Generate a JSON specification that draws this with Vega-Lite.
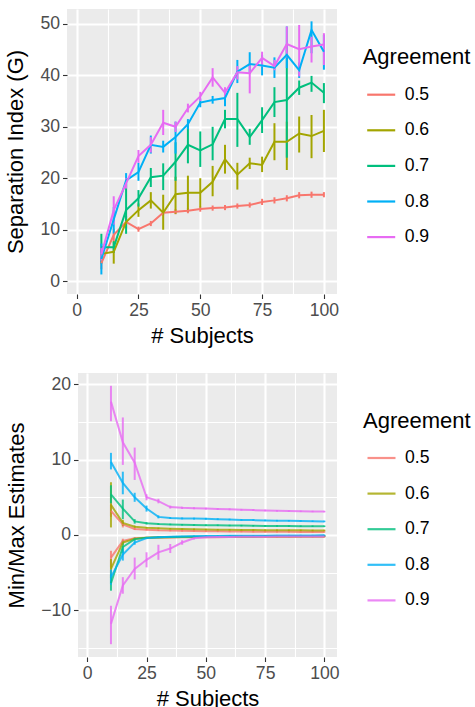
{
 "$schema": "https://vega.github.io/schema/vega-lite/v6.json",
 "padding": {"left": 4, "top": 9, "right": 0, "bottom": 0},
 "background": "white",
 "config": {
  "font": "Liberation Sans",
  "view": {"fill": "#EBEBEB", "stroke": null},
  "axis": {"domain": false, "gridColor": "white", "tickColor": "#333333", "tickSize": 4.5, "tickWidth": 1.1, "labelColor": "#4D4D4D", "labelFontSize": 17.6, "labelPadding": 3, "titleFontSize": 22, "titleFontWeight": "normal", "titleColor": "black", "labelOverlap": false},
  "legend": {"titleFontSize": 22, "titleFontWeight": "normal", "titleColor": "black", "labelFontSize": 17.6, "labelColor": "black", "symbolType": "stroke", "symbolSize": 784, "symbolStrokeWidth": 2.2, "rowPadding": 10.6, "titlePadding": 10, "labelOffset": 8, "symbolOffset": 3}
 },
 "datasets": {
  "top": [
   {"n":10,"a":"0.5","m":3.5,"l":2.3,"h":4.7},{"n":15,"a":"0.5","m":9.0,"l":7.8,"h":10.2},{"n":20,"a":"0.5","m":11.5,"l":11.0,"h":12.0},{"n":25,"a":"0.5","m":10.1,"l":9.6,"h":10.6},{"n":30,"a":"0.5","m":11.2,"l":10.7,"h":11.7},{"n":35,"a":"0.5","m":13.3,"l":12.8,"h":13.8},{"n":40,"a":"0.5","m":13.5,"l":13.0,"h":14.0},{"n":45,"a":"0.5","m":13.7,"l":13.2,"h":14.2},{"n":50,"a":"0.5","m":14.0,"l":13.5,"h":14.5},{"n":55,"a":"0.5","m":14.2,"l":13.7,"h":14.7},{"n":60,"a":"0.5","m":14.3,"l":13.8,"h":14.8},{"n":65,"a":"0.5","m":14.6,"l":14.1,"h":15.1},{"n":70,"a":"0.5","m":14.8,"l":14.3,"h":15.3},{"n":75,"a":"0.5","m":15.4,"l":14.8,"h":16.0},{"n":80,"a":"0.5","m":15.7,"l":15.1,"h":16.3},{"n":85,"a":"0.5","m":16.1,"l":15.5,"h":16.7},{"n":90,"a":"0.5","m":16.7,"l":16.1,"h":17.3},{"n":95,"a":"0.5","m":16.8,"l":16.2,"h":17.4},{"n":100,"a":"0.5","m":16.8,"l":16.3,"h":17.3},
   {"n":10,"a":"0.6","m":5.3,"l":3.4,"h":6.6},{"n":15,"a":"0.6","m":5.7,"l":3.4,"h":7.8},{"n":20,"a":"0.6","m":11.5,"l":10.3,"h":12.7},{"n":25,"a":"0.6","m":13.8,"l":12.5,"h":15.1},{"n":30,"a":"0.6","m":15.7,"l":14.1,"h":17.3},{"n":35,"a":"0.6","m":13.3,"l":10.0,"h":16.8},{"n":40,"a":"0.6","m":16.9,"l":13.1,"h":20.3},{"n":45,"a":"0.6","m":17.2,"l":13.5,"h":20.5},{"n":50,"a":"0.6","m":17.2,"l":14.3,"h":20.0},{"n":55,"a":"0.6","m":19.3,"l":16.5,"h":22.4},{"n":60,"a":"0.6","m":23.7,"l":20.9,"h":26.5},{"n":65,"a":"0.6","m":20.7,"l":17.8,"h":23.0},{"n":70,"a":"0.6","m":22.9,"l":21.8,"h":24.0},{"n":75,"a":"0.6","m":22.6,"l":21.2,"h":24.2},{"n":80,"a":"0.6","m":27.1,"l":23.5,"h":30.7},{"n":85,"a":"0.6","m":27.1,"l":21.6,"h":31.0},{"n":90,"a":"0.6","m":28.7,"l":25.0,"h":32.0},{"n":95,"a":"0.6","m":28.2,"l":23.9,"h":32.3},{"n":100,"a":"0.6","m":29.2,"l":25.1,"h":33.3},
   {"n":10,"a":"0.7","m":6.6,"l":4.0,"h":9.2},{"n":15,"a":"0.7","m":6.6,"l":5.5,"h":7.7},{"n":20,"a":"0.7","m":13.8,"l":9.2,"h":19.0},{"n":25,"a":"0.7","m":16.1,"l":14.5,"h":17.7},{"n":30,"a":"0.7","m":20.2,"l":18.3,"h":22.0},{"n":35,"a":"0.7","m":20.5,"l":17.7,"h":22.9},{"n":40,"a":"0.7","m":23.2,"l":19.5,"h":27.0},{"n":45,"a":"0.7","m":26.5,"l":22.9,"h":30.3},{"n":50,"a":"0.7","m":25.4,"l":22.2,"h":29.1},{"n":55,"a":"0.7","m":26.6,"l":23.5,"h":30.0},{"n":60,"a":"0.7","m":31.5,"l":29.7,"h":33.3},{"n":65,"a":"0.7","m":31.5,"l":26.1,"h":36.6},{"n":70,"a":"0.7","m":28.0,"l":26.5,"h":29.6},{"n":75,"a":"0.7","m":31.3,"l":28.8,"h":33.8},{"n":80,"a":"0.7","m":34.8,"l":31.9,"h":37.7},{"n":85,"a":"0.7","m":35.2,"l":24.0,"h":46.0},{"n":90,"a":"0.7","m":37.6,"l":36.2,"h":39.0},{"n":95,"a":"0.7","m":38.6,"l":36.8,"h":39.9},{"n":100,"a":"0.7","m":36.6,"l":34.6,"h":38.5},
   {"n":10,"a":"0.8","m":4.3,"l":1.3,"h":7.3},{"n":15,"a":"0.8","m":12.0,"l":9.2,"h":14.4},{"n":20,"a":"0.8","m":19.6,"l":18.2,"h":21.0},{"n":25,"a":"0.8","m":21.2,"l":19.5,"h":23.0},{"n":30,"a":"0.8","m":26.5,"l":24.8,"h":28.3},{"n":35,"a":"0.8","m":26.1,"l":25.0,"h":27.3},{"n":40,"a":"0.8","m":28.0,"l":24.8,"h":31.0},{"n":45,"a":"0.8","m":30.5,"l":29.5,"h":31.5},{"n":50,"a":"0.8","m":34.7,"l":33.8,"h":35.5},{"n":55,"a":"0.8","m":35.2,"l":34.5,"h":36.0},{"n":60,"a":"0.8","m":35.6,"l":34.0,"h":37.0},{"n":65,"a":"0.8","m":40.7,"l":38.5,"h":43.0},{"n":70,"a":"0.8","m":42.2,"l":40.3,"h":44.5},{"n":75,"a":"0.8","m":41.9,"l":40.0,"h":44.0},{"n":80,"a":"0.8","m":41.5,"l":39.5,"h":43.5},{"n":85,"a":"0.8","m":44.0,"l":41.4,"h":49.5},{"n":90,"a":"0.8","m":41.0,"l":39.5,"h":42.5},{"n":95,"a":"0.8","m":48.8,"l":44.3,"h":50.5},{"n":100,"a":"0.8","m":44.6,"l":41.1,"h":47.9},
   {"n":10,"a":"0.9","m":5.2,"l":4.0,"h":6.5},{"n":15,"a":"0.9","m":13.8,"l":11.0,"h":16.5},{"n":20,"a":"0.9","m":19.0,"l":18.0,"h":20.0},{"n":25,"a":"0.9","m":24.3,"l":23.0,"h":25.5},{"n":30,"a":"0.9","m":26.5,"l":25.0,"h":28.0},{"n":35,"a":"0.9","m":30.8,"l":28.4,"h":33.3},{"n":40,"a":"0.9","m":30.0,"l":29.0,"h":31.0},{"n":45,"a":"0.9","m":33.6,"l":32.8,"h":34.5},{"n":50,"a":"0.9","m":35.9,"l":35.0,"h":36.8},{"n":55,"a":"0.9","m":39.6,"l":37.8,"h":41.4},{"n":60,"a":"0.9","m":36.6,"l":35.5,"h":37.7},{"n":65,"a":"0.9","m":40.6,"l":39.2,"h":41.8},{"n":70,"a":"0.9","m":40.4,"l":36.5,"h":42.4},{"n":75,"a":"0.9","m":43.4,"l":41.7,"h":44.6},{"n":80,"a":"0.9","m":41.8,"l":41.0,"h":43.0},{"n":85,"a":"0.9","m":46.1,"l":43.5,"h":49.5},{"n":90,"a":"0.9","m":45.1,"l":39.8,"h":49.8},{"n":95,"a":"0.9","m":45.6,"l":42.5,"h":47.5},{"n":100,"a":"0.9","m":46.0,"l":42.0,"h":48.2}
  ],
  "bottom": [
   {"n":10,"a":"0.5","t":"max","m":3.2,"l":2.4,"h":4.1},{"n":15,"a":"0.5","t":"max","m":1.4,"l":1.0,"h":1.8},{"n":20,"a":"0.5","t":"max","m":0.8,"l":0.65,"h":0.95},{"n":25,"a":"0.5","t":"max","m":0.7,"l":0.6,"h":0.8},{"n":30,"a":"0.5","t":"max","m":0.62,"l":0.52,"h":0.72},{"n":35,"a":"0.5","t":"max","m":0.58,"l":0.48,"h":0.68},{"n":40,"a":"0.5","t":"max","m":0.55,"l":0.45,"h":0.65},{"n":45,"a":"0.5","t":"max","m":0.53,"l":0.43,"h":0.63},{"n":50,"a":"0.5","t":"max","m":0.5,"l":0.4,"h":0.6},{"n":55,"a":"0.5","t":"max","m":0.48,"l":0.38,"h":0.58},{"n":60,"a":"0.5","t":"max","m":0.47,"l":0.37,"h":0.57},{"n":65,"a":"0.5","t":"max","m":0.45,"l":0.35,"h":0.55},{"n":70,"a":"0.5","t":"max","m":0.44,"l":0.34,"h":0.54},{"n":75,"a":"0.5","t":"max","m":0.43,"l":0.33,"h":0.53},{"n":80,"a":"0.5","t":"max","m":0.42,"l":0.32,"h":0.52},{"n":85,"a":"0.5","t":"max","m":0.41,"l":0.31,"h":0.51},{"n":90,"a":"0.5","t":"max","m":0.4,"l":0.3,"h":0.5},{"n":95,"a":"0.5","t":"max","m":0.4,"l":0.3,"h":0.5},{"n":100,"a":"0.5","t":"max","m":0.4,"l":0.3,"h":0.5},
   {"n":10,"a":"0.6","t":"max","m":4.0,"l":1.0,"h":7.0},{"n":15,"a":"0.6","t":"max","m":1.6,"l":1.2,"h":2.0},{"n":20,"a":"0.6","t":"max","m":1.1,"l":0.95,"h":1.25},{"n":25,"a":"0.6","t":"max","m":0.95,"l":0.85,"h":1.05},{"n":30,"a":"0.6","t":"max","m":0.88,"l":0.78,"h":0.98},{"n":35,"a":"0.6","t":"max","m":0.82,"l":0.72,"h":0.92},{"n":40,"a":"0.6","t":"max","m":0.78,"l":0.68,"h":0.88},{"n":45,"a":"0.6","t":"max","m":0.75,"l":0.65,"h":0.85},{"n":50,"a":"0.6","t":"max","m":0.72,"l":0.62,"h":0.82},{"n":55,"a":"0.6","t":"max","m":0.7,"l":0.6,"h":0.8},{"n":60,"a":"0.6","t":"max","m":0.68,"l":0.58,"h":0.78},{"n":65,"a":"0.6","t":"max","m":0.67,"l":0.57,"h":0.77},{"n":70,"a":"0.6","t":"max","m":0.65,"l":0.55,"h":0.75},{"n":75,"a":"0.6","t":"max","m":0.64,"l":0.54,"h":0.74},{"n":80,"a":"0.6","t":"max","m":0.63,"l":0.53,"h":0.73},{"n":85,"a":"0.6","t":"max","m":0.62,"l":0.52,"h":0.72},{"n":90,"a":"0.6","t":"max","m":0.61,"l":0.51,"h":0.71},{"n":95,"a":"0.6","t":"max","m":0.6,"l":0.5,"h":0.7},{"n":100,"a":"0.6","t":"max","m":0.6,"l":0.5,"h":0.7},
   {"n":10,"a":"0.7","t":"max","m":5.4,"l":4.2,"h":6.6},{"n":15,"a":"0.7","t":"max","m":3.5,"l":2.1,"h":4.7},{"n":20,"a":"0.7","t":"max","m":1.8,"l":1.5,"h":2.1},{"n":25,"a":"0.7","t":"max","m":1.55,"l":1.4,"h":1.7},{"n":30,"a":"0.7","t":"max","m":1.45,"l":1.33,"h":1.57},{"n":35,"a":"0.7","t":"max","m":1.4,"l":1.3,"h":1.5},{"n":40,"a":"0.7","t":"max","m":1.35,"l":1.25,"h":1.45},{"n":45,"a":"0.7","t":"max","m":1.32,"l":1.22,"h":1.42},{"n":50,"a":"0.7","t":"max","m":1.3,"l":1.2,"h":1.4},{"n":55,"a":"0.7","t":"max","m":1.28,"l":1.18,"h":1.38},{"n":60,"a":"0.7","t":"max","m":1.26,"l":1.16,"h":1.36},{"n":65,"a":"0.7","t":"max","m":1.24,"l":1.14,"h":1.34},{"n":70,"a":"0.7","t":"max","m":1.22,"l":1.12,"h":1.32},{"n":75,"a":"0.7","t":"max","m":1.2,"l":1.1,"h":1.3},{"n":80,"a":"0.7","t":"max","m":1.19,"l":1.09,"h":1.29},{"n":85,"a":"0.7","t":"max","m":1.18,"l":1.08,"h":1.28},{"n":90,"a":"0.7","t":"max","m":1.17,"l":1.07,"h":1.27},{"n":95,"a":"0.7","t":"max","m":1.16,"l":1.06,"h":1.26},{"n":100,"a":"0.7","t":"max","m":1.15,"l":1.05,"h":1.25},
   {"n":10,"a":"0.8","t":"max","m":9.7,"l":8.7,"h":10.9},{"n":15,"a":"0.8","t":"max","m":6.9,"l":5.4,"h":8.4},{"n":20,"a":"0.8","t":"max","m":5.0,"l":4.4,"h":5.6},{"n":25,"a":"0.8","t":"max","m":3.5,"l":3.1,"h":3.9},{"n":30,"a":"0.8","t":"max","m":2.4,"l":2.2,"h":2.6},{"n":35,"a":"0.8","t":"max","m":2.25,"l":2.12,"h":2.38},{"n":40,"a":"0.8","t":"max","m":2.2,"l":2.08,"h":2.32},{"n":45,"a":"0.8","t":"max","m":2.17,"l":2.05,"h":2.29},{"n":50,"a":"0.8","t":"max","m":2.15,"l":2.03,"h":2.27},{"n":55,"a":"0.8","t":"max","m":2.1,"l":1.98,"h":2.22},{"n":60,"a":"0.8","t":"max","m":2.05,"l":1.94,"h":2.16},{"n":65,"a":"0.8","t":"max","m":2.0,"l":1.9,"h":2.1},{"n":70,"a":"0.8","t":"max","m":1.97,"l":1.87,"h":2.07},{"n":75,"a":"0.8","t":"max","m":1.93,"l":1.83,"h":2.03},{"n":80,"a":"0.8","t":"max","m":1.9,"l":1.8,"h":2.0},{"n":85,"a":"0.8","t":"max","m":1.88,"l":1.78,"h":1.98},{"n":90,"a":"0.8","t":"max","m":1.85,"l":1.75,"h":1.95},{"n":95,"a":"0.8","t":"max","m":1.82,"l":1.72,"h":1.92},{"n":100,"a":"0.8","t":"max","m":1.8,"l":1.7,"h":1.9},
   {"n":10,"a":"0.9","t":"max","m":17.7,"l":15.1,"h":19.8},{"n":15,"a":"0.9","t":"max","m":12.3,"l":9.3,"h":15.6},{"n":20,"a":"0.9","t":"max","m":9.6,"l":7.3,"h":11.6},{"n":25,"a":"0.9","t":"max","m":5.0,"l":4.6,"h":5.4},{"n":30,"a":"0.9","t":"max","m":4.5,"l":4.2,"h":4.8},{"n":35,"a":"0.9","t":"max","m":3.7,"l":3.5,"h":3.9},{"n":40,"a":"0.9","t":"max","m":3.6,"l":3.45,"h":3.75},{"n":45,"a":"0.9","t":"max","m":3.55,"l":3.42,"h":3.68},{"n":50,"a":"0.9","t":"max","m":3.5,"l":3.38,"h":3.62},{"n":55,"a":"0.9","t":"max","m":3.45,"l":3.33,"h":3.57},{"n":60,"a":"0.9","t":"max","m":3.4,"l":3.28,"h":3.52},{"n":65,"a":"0.9","t":"max","m":3.35,"l":3.24,"h":3.46},{"n":70,"a":"0.9","t":"max","m":3.3,"l":3.19,"h":3.41},{"n":75,"a":"0.9","t":"max","m":3.25,"l":3.14,"h":3.36},{"n":80,"a":"0.9","t":"max","m":3.2,"l":3.1,"h":3.3},{"n":85,"a":"0.9","t":"max","m":3.17,"l":3.07,"h":3.27},{"n":90,"a":"0.9","t":"max","m":3.14,"l":3.04,"h":3.24},{"n":95,"a":"0.9","t":"max","m":3.12,"l":3.02,"h":3.22},{"n":100,"a":"0.9","t":"max","m":3.1,"l":3.0,"h":3.2},
   {"n":10,"a":"0.5","t":"min","m":-3.0,"l":-4.3,"h":-2.1},{"n":15,"a":"0.5","t":"min","m":-0.8,"l":-1.1,"h":-0.5},{"n":20,"a":"0.5","t":"min","m":-0.45,"l":-0.55,"h":-0.35},{"n":25,"a":"0.5","t":"min","m":-0.38,"l":-0.46,"h":-0.3},{"n":30,"a":"0.5","t":"min","m":-0.35,"l":-0.43,"h":-0.27},{"n":35,"a":"0.5","t":"min","m":-0.33,"l":-0.41,"h":-0.25},{"n":40,"a":"0.5","t":"min","m":-0.32,"l":-0.4,"h":-0.24},{"n":45,"a":"0.5","t":"min","m":-0.31,"l":-0.39,"h":-0.23},{"n":50,"a":"0.5","t":"min","m":-0.3,"l":-0.38,"h":-0.22},{"n":55,"a":"0.5","t":"min","m":-0.29,"l":-0.37,"h":-0.21},{"n":60,"a":"0.5","t":"min","m":-0.28,"l":-0.36,"h":-0.2},{"n":65,"a":"0.5","t":"min","m":-0.28,"l":-0.36,"h":-0.2},{"n":70,"a":"0.5","t":"min","m":-0.27,"l":-0.35,"h":-0.19},{"n":75,"a":"0.5","t":"min","m":-0.27,"l":-0.35,"h":-0.19},{"n":80,"a":"0.5","t":"min","m":-0.26,"l":-0.34,"h":-0.18},{"n":85,"a":"0.5","t":"min","m":-0.26,"l":-0.34,"h":-0.18},{"n":90,"a":"0.5","t":"min","m":-0.25,"l":-0.33,"h":-0.17},{"n":95,"a":"0.5","t":"min","m":-0.25,"l":-0.33,"h":-0.17},{"n":100,"a":"0.5","t":"min","m":-0.25,"l":-0.33,"h":-0.17},
   {"n":10,"a":"0.6","t":"min","m":-4.5,"l":-5.8,"h":-3.2},{"n":15,"a":"0.6","t":"min","m":-1.0,"l":-1.3,"h":-0.7},{"n":20,"a":"0.6","t":"min","m":-0.5,"l":-0.6,"h":-0.4},{"n":25,"a":"0.6","t":"min","m":-0.38,"l":-0.46,"h":-0.3},{"n":30,"a":"0.6","t":"min","m":-0.33,"l":-0.41,"h":-0.25},{"n":35,"a":"0.6","t":"min","m":-0.3,"l":-0.38,"h":-0.22},{"n":40,"a":"0.6","t":"min","m":-0.28,"l":-0.36,"h":-0.2},{"n":45,"a":"0.6","t":"min","m":-0.27,"l":-0.35,"h":-0.19},{"n":50,"a":"0.6","t":"min","m":-0.26,"l":-0.34,"h":-0.18},{"n":55,"a":"0.6","t":"min","m":-0.25,"l":-0.33,"h":-0.17},{"n":60,"a":"0.6","t":"min","m":-0.24,"l":-0.32,"h":-0.16},{"n":65,"a":"0.6","t":"min","m":-0.23,"l":-0.31,"h":-0.15},{"n":70,"a":"0.6","t":"min","m":-0.23,"l":-0.31,"h":-0.15},{"n":75,"a":"0.6","t":"min","m":-0.22,"l":-0.3,"h":-0.14},{"n":80,"a":"0.6","t":"min","m":-0.22,"l":-0.3,"h":-0.14},{"n":85,"a":"0.6","t":"min","m":-0.21,"l":-0.29,"h":-0.13},{"n":90,"a":"0.6","t":"min","m":-0.21,"l":-0.29,"h":-0.13},{"n":95,"a":"0.6","t":"min","m":-0.2,"l":-0.28,"h":-0.12},{"n":100,"a":"0.6","t":"min","m":-0.2,"l":-0.28,"h":-0.12},
   {"n":10,"a":"0.7","t":"min","m":-6.4,"l":-7.4,"h":-5.2},{"n":15,"a":"0.7","t":"min","m":-1.6,"l":-2.4,"h":-0.8},{"n":20,"a":"0.7","t":"min","m":-0.55,"l":-0.75,"h":-0.35},{"n":25,"a":"0.7","t":"min","m":-0.38,"l":-0.46,"h":-0.3},{"n":30,"a":"0.7","t":"min","m":-0.3,"l":-0.38,"h":-0.22},{"n":35,"a":"0.7","t":"min","m":-0.26,"l":-0.34,"h":-0.18},{"n":40,"a":"0.7","t":"min","m":-0.23,"l":-0.31,"h":-0.15},{"n":45,"a":"0.7","t":"min","m":-0.21,"l":-0.29,"h":-0.13},{"n":50,"a":"0.7","t":"min","m":-0.2,"l":-0.28,"h":-0.12},{"n":55,"a":"0.7","t":"min","m":-0.19,"l":-0.27,"h":-0.11},{"n":60,"a":"0.7","t":"min","m":-0.18,"l":-0.26,"h":-0.1},{"n":65,"a":"0.7","t":"min","m":-0.17,"l":-0.25,"h":-0.09},{"n":70,"a":"0.7","t":"min","m":-0.16,"l":-0.24,"h":-0.08},{"n":75,"a":"0.7","t":"min","m":-0.15,"l":-0.23,"h":-0.07},{"n":80,"a":"0.7","t":"min","m":-0.15,"l":-0.23,"h":-0.07},{"n":85,"a":"0.7","t":"min","m":-0.14,"l":-0.22,"h":-0.06},{"n":90,"a":"0.7","t":"min","m":-0.13,"l":-0.21,"h":-0.05},{"n":95,"a":"0.7","t":"min","m":-0.13,"l":-0.21,"h":-0.05},{"n":100,"a":"0.7","t":"min","m":-0.12,"l":-0.2,"h":-0.04},
   {"n":10,"a":"0.8","t":"min","m":-5.6,"l":-6.6,"h":-4.6},{"n":15,"a":"0.8","t":"min","m":-2.6,"l":-3.4,"h":-1.8},{"n":20,"a":"0.8","t":"min","m":-1.0,"l":-1.3,"h":-0.7},{"n":25,"a":"0.8","t":"min","m":-0.42,"l":-0.55,"h":-0.3},{"n":30,"a":"0.8","t":"min","m":-0.3,"l":-0.38,"h":-0.22},{"n":35,"a":"0.8","t":"min","m":-0.24,"l":-0.32,"h":-0.16},{"n":40,"a":"0.8","t":"min","m":-0.2,"l":-0.28,"h":-0.12},{"n":45,"a":"0.8","t":"min","m":-0.17,"l":-0.25,"h":-0.09},{"n":50,"a":"0.8","t":"min","m":-0.15,"l":-0.23,"h":-0.07},{"n":55,"a":"0.8","t":"min","m":-0.13,"l":-0.21,"h":-0.05},{"n":60,"a":"0.8","t":"min","m":-0.12,"l":-0.2,"h":-0.04},{"n":65,"a":"0.8","t":"min","m":-0.11,"l":-0.19,"h":-0.03},{"n":70,"a":"0.8","t":"min","m":-0.1,"l":-0.18,"h":-0.02},{"n":75,"a":"0.8","t":"min","m":-0.09,"l":-0.17,"h":-0.01},{"n":80,"a":"0.8","t":"min","m":-0.08,"l":-0.16,"h":0.0},{"n":85,"a":"0.8","t":"min","m":-0.07,"l":-0.15,"h":0.01},{"n":90,"a":"0.8","t":"min","m":-0.06,"l":-0.14,"h":0.02},{"n":95,"a":"0.8","t":"min","m":-0.06,"l":-0.14,"h":0.02},{"n":100,"a":"0.8","t":"min","m":-0.05,"l":-0.13,"h":0.03},
   {"n":10,"a":"0.9","t":"min","m":-11.8,"l":-14.5,"h":-9.4},{"n":15,"a":"0.9","t":"min","m":-6.7,"l":-7.8,"h":-5.6},{"n":20,"a":"0.9","t":"min","m":-4.5,"l":-5.9,"h":-3.0},{"n":25,"a":"0.9","t":"min","m":-3.3,"l":-4.3,"h":-2.3},{"n":30,"a":"0.9","t":"min","m":-2.3,"l":-3.3,"h":-1.3},{"n":35,"a":"0.9","t":"min","m":-1.8,"l":-2.4,"h":-1.2},{"n":40,"a":"0.9","t":"min","m":-1.0,"l":-1.3,"h":-0.7},{"n":45,"a":"0.9","t":"min","m":-0.45,"l":-0.6,"h":-0.3},{"n":50,"a":"0.9","t":"min","m":-0.32,"l":-0.42,"h":-0.22},{"n":55,"a":"0.9","t":"min","m":-0.28,"l":-0.36,"h":-0.2},{"n":60,"a":"0.9","t":"min","m":-0.26,"l":-0.34,"h":-0.18},{"n":65,"a":"0.9","t":"min","m":-0.25,"l":-0.33,"h":-0.17},{"n":70,"a":"0.9","t":"min","m":-0.24,"l":-0.32,"h":-0.16},{"n":75,"a":"0.9","t":"min","m":-0.23,"l":-0.31,"h":-0.15},{"n":80,"a":"0.9","t":"min","m":-0.22,"l":-0.3,"h":-0.14},{"n":85,"a":"0.9","t":"min","m":-0.21,"l":-0.29,"h":-0.13},{"n":90,"a":"0.9","t":"min","m":-0.21,"l":-0.29,"h":-0.13},{"n":95,"a":"0.9","t":"min","m":-0.2,"l":-0.28,"h":-0.12},{"n":100,"a":"0.9","t":"min","m":-0.2,"l":-0.28,"h":-0.12}
  ]
 },
 "vconcat": [
  {
   "width": 270, "height": 285,
   "data": {"name": "top"},
   "encoding": {
    "x": {"field": "n", "type": "quantitative", "title": "# Subjects",
      "scale": {"domain": [-3.9, 105.3], "nice": false, "zero": false},
      "axis": {"values": [0, 12.5, 25, 37.5, 50, 62.5, 75, 87.5, 100], "labelExpr": "datum.value % 25 === 0 ? datum.label : ''", "gridWidth": {"condition": {"test": "datum.value % 25 !== 0", "value": 1.1}, "value": 2.1}, "tickOpacity": {"condition": {"test": "datum.value % 25 !== 0", "value": 0}, "value": 1}, "titlePadding": 6}},
    "color": {"field": "a", "type": "nominal", "title": "Agreement",
      "scale": {"domain": ["0.5", "0.6", "0.7", "0.8", "0.9"], "range": ["#F8766D", "#A3A500", "#00BF7D", "#00B0F6", "#E76BF3"]},
      "legend": {"orient": "none", "legendX": 285, "legendY": 27.5, "padding": 10.7}}
   },
   "layer": [
    {"mark": {"type": "rule", "strokeWidth": 2},
     "encoding": {"y": {"field": "l", "type": "quantitative"}, "y2": {"field": "h"}}},
    {"mark": {"type": "line", "strokeWidth": 2},
     "encoding": {"y": {"field": "m", "type": "quantitative", "title": "Separation Index (G)",
       "scale": {"domain": [-2.5, 52.9], "nice": false, "zero": false},
       "axis": {"values": [0, 5, 10, 15, 20, 25, 30, 35, 40, 45, 50], "labelExpr": "datum.value % 10 === 0 ? datum.label : ''", "gridWidth": {"condition": {"test": "datum.value % 10 !== 0", "value": 1.1}, "value": 2.1}, "tickOpacity": {"condition": {"test": "datum.value % 10 !== 0", "value": 0}, "value": 1}, "titlePadding": 12}}}}
   ]
  },
  {
   "width": 259, "height": 284,
   "data": {"name": "bottom"},
   "encoding": {
    "x": {"field": "n", "type": "quantitative", "title": "# Subjects",
      "scale": {"domain": [-3.9, 105.3], "nice": false, "zero": false},
      "axis": {"values": [0, 12.5, 25, 37.5, 50, 62.5, 75, 87.5, 100], "labelExpr": "datum.value % 25 === 0 ? datum.label : ''", "gridWidth": {"condition": {"test": "datum.value % 25 !== 0", "value": 1.1}, "value": 2.1}, "tickOpacity": {"condition": {"test": "datum.value % 25 !== 0", "value": 0}, "value": 1}, "titlePadding": 6}},
    "color": {"field": "a", "type": "nominal", "title": "Agreement",
      "scale": {"domain": ["0.5", "0.6", "0.7", "0.8", "0.9"], "range": ["#F8766D", "#A3A500", "#00BF7D", "#00B0F6", "#E76BF3"]},
      "legend": {"orient": "none", "legendX": 285, "legendY": 37.5}},
    "detail": {"field": "t", "type": "nominal"}
   },
   "layer": [
    {"mark": {"type": "rule", "strokeWidth": 2, "opacity": 0.8},
     "encoding": {"y": {"field": "l", "type": "quantitative"}, "y2": {"field": "h"}}},
    {"mark": {"type": "line", "strokeWidth": 2, "opacity": 0.8},
     "encoding": {"y": {"field": "m", "type": "quantitative", "title": "Min/Max Estimates",
       "scale": {"domain": [-16.2, 21.5], "nice": false, "zero": false},
       "axis": {"values": [-15, -10, -5, 0, 5, 10, 15, 20], "labelExpr": "datum.value % 10 === 0 ? datum.label : ''", "gridWidth": {"condition": {"test": "datum.value % 10 !== 0", "value": 1.1}, "value": 2.1}, "tickOpacity": {"condition": {"test": "datum.value % 10 !== 0", "value": 0}, "value": 1}, "titlePadding": 12}}}}
   ]
  }
 ],
 "center": true,
 "spacing": 26,
 "resolve": {"scale": {"x": "independent", "y": "independent", "color": "independent"}, "legend": {"color": "independent"}}
}
